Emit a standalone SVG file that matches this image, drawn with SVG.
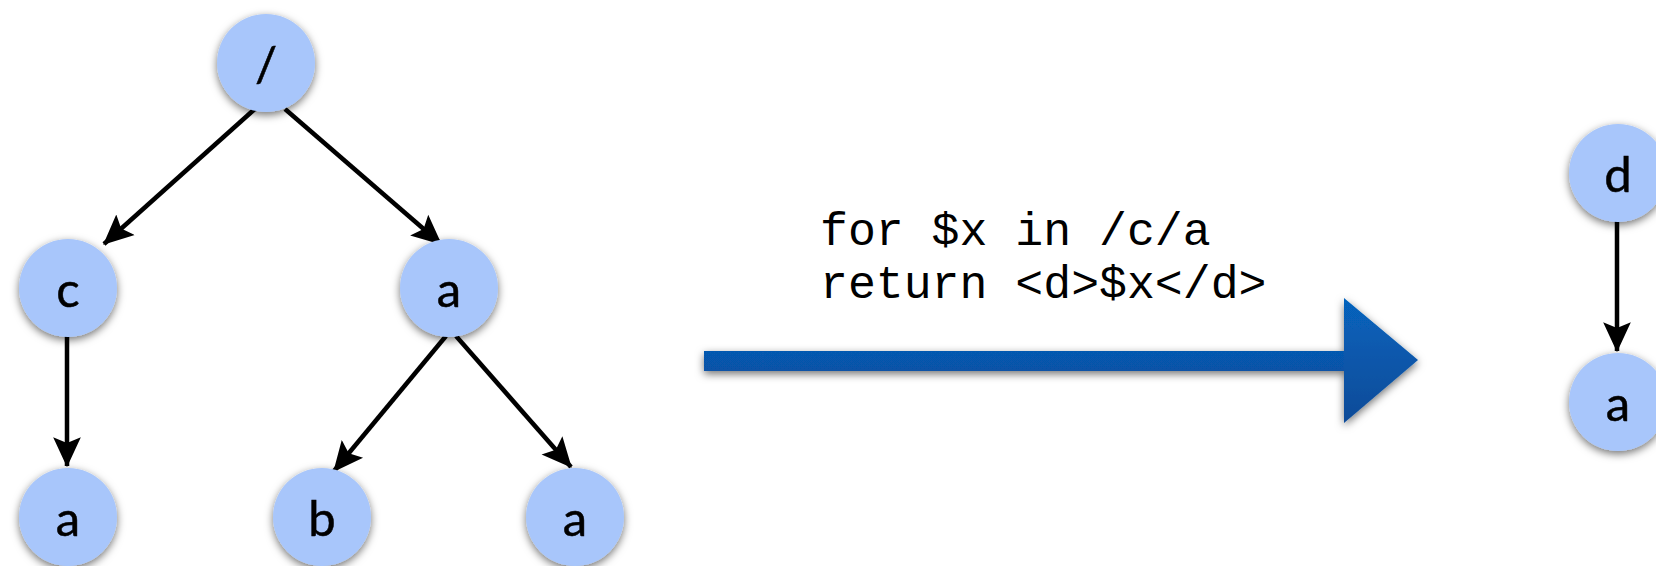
<svg xmlns="http://www.w3.org/2000/svg" width="1656" height="566" viewBox="0 0 1656 566">
<defs>
<style>
.node circle{fill:#a8c6fb;filter:url(#sh)}
.node text{font-family:"Lato","Open Sans",sans-serif;font-size:49px;fill:#000;stroke:#000;stroke-width:0.5;text-anchor:middle;dominant-baseline:central}
.edge{stroke:#000;stroke-width:4.5;fill:none;marker-end:url(#ah)}
.code{font-family:"Liberation Mono","Courier New",monospace;font-size:46.5px;fill:#000}
</style>
<filter id="sh" x="-30%" y="-30%" width="160%" height="170%">
<feDropShadow dx="0" dy="3" stdDeviation="4" flood-color="#000" flood-opacity="0.55"/>
</filter>
<linearGradient id="bg" x1="0" y1="0" x2="0" y2="1">
<stop offset="0" stop-color="#0663bd"/>
<stop offset="1" stop-color="#0a4b98"/>
</linearGradient>
<linearGradient id="sg" x1="0" y1="0" x2="0" y2="1">
<stop offset="0" stop-color="#0659b0"/>
<stop offset="1" stop-color="#0752a6"/>
</linearGradient>
<marker id="ah" markerUnits="userSpaceOnUse" markerWidth="30" markerHeight="30" viewBox="0 0 26 26" refX="25" refY="13" orient="auto">
<path d="M0,1 L26,13 L0,25 L5,13 Z" fill="#000"/>
</marker>
</defs>
<rect width="1656" height="566" fill="#fff"/>
<g id="connectors">
<line class="edge" x1="257" y1="107" x2="104" y2="244"/>
<line class="edge" x1="285" y1="109" x2="441" y2="244"/>
<line class="edge" x1="67" y1="335" x2="67" y2="466"/>
<line class="edge" x1="446" y1="336" x2="334" y2="471"/>
<line class="edge" x1="456" y1="336" x2="571" y2="467"/>
<line class="edge" x1="1617" y1="221" x2="1617" y2="351"/>
</g>
<g id="bigarrow" filter="url(#sh)">
<rect x="704" y="351" width="642" height="20" fill="url(#sg)"/>
<polygon points="1344,298 1418,360 1344,423" fill="url(#bg)"/>
</g>
<g id="code">
<text class="code" x="820" y="245">for $x in /c/a</text>
<text class="code" x="820" y="298">return &lt;d&gt;$x&lt;/d&gt;</text>
</g>
<g id="n-root" class="node"><circle cx="266" cy="63" r="49"/><text x="266" y="63">/</text></g>
<g id="n-c" class="node"><circle cx="68" cy="288" r="49"/><text x="68" y="288">c</text></g>
<g id="n-a1" class="node"><circle cx="449" cy="288" r="49"/><text x="449" y="288">a</text></g>
<g id="n-a2" class="node"><circle cx="68" cy="517" r="49"/><text x="68" y="517">a</text></g>
<g id="n-b" class="node"><circle cx="322" cy="517" r="49"/><text x="322" y="517">b</text></g>
<g id="n-a3" class="node"><circle cx="575" cy="517" r="49"/><text x="575" y="517">a</text></g>
<g id="n-d" class="node"><circle cx="1618" cy="173" r="49"/><text x="1618" y="173">d</text></g>
<g id="n-a4" class="node"><circle cx="1618" cy="402" r="49"/><text x="1618" y="402">a</text></g>
</svg>
